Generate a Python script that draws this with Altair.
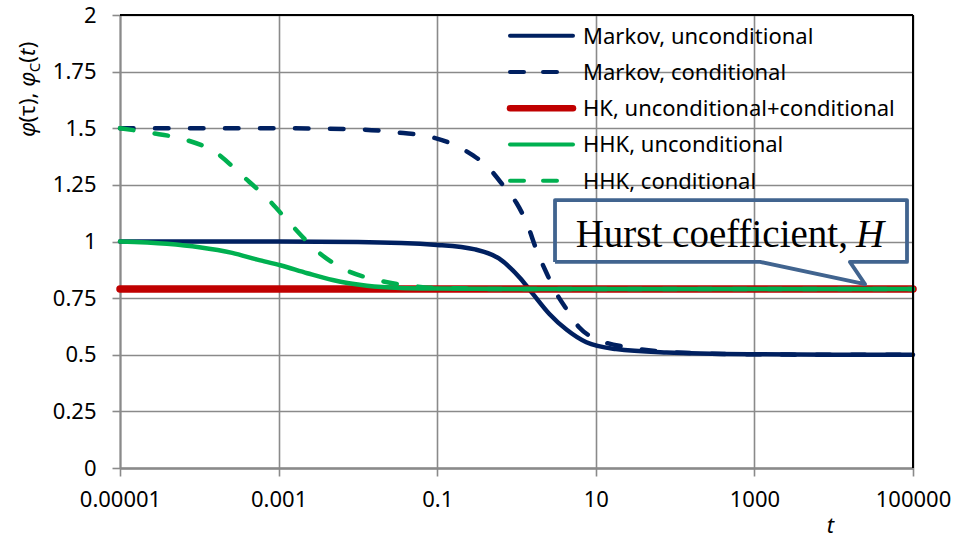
import altair as alt
import pandas as pd

# Series definitions (legend order = drawing order)
series_names = [
    "Markov, unconditional",
    "Markov, conditional",
    "HK, unconditional+conditional",
    "HHK, unconditional",
    "HHK, conditional",
]
series_colors = ["#002060", "#002060", "#C00000", "#00B050", "#00B050"]
series_dashed = [False, True, False, False, True]
series_width = [4.5, 4.5, 7.5, 4.5, 4.5]
legend_width = [4, 4, 6.5, 4, 4]

# Markov process, unconditional
markov_unc_t = [1e-5, 1e-4, 1e-3, 1e-2, 0.1, 0.3, 0.6, 1.1, 1.6, 2.6, 4.3, 7.6, 18, 78, 1000, 1e4, 1e5]
markov_unc_phi = [1.0, 1.0, 1.0, 0.998, 0.985, 0.965, 0.925, 0.84, 0.77, 0.68, 0.61, 0.555, 0.525, 0.51, 0.502, 0.5, 0.5]

# Markov process, conditional
markov_cond_t = [1e-5, 1e-4, 1e-3, 1e-2, 0.034, 0.087, 0.23, 0.46, 0.74, 1.0, 1.35, 1.8, 2.4, 3.2, 4.3, 6.2, 11, 29, 100, 1000, 1e4, 1e5]
markov_cond_phi = [1.5, 1.5, 1.5, 1.495, 1.48, 1.46, 1.40, 1.32, 1.23, 1.17, 1.08, 0.96, 0.86, 0.77, 0.70, 0.62, 0.565, 0.53, 0.51, 0.502, 0.5, 0.5]

# Hurst-Kolmogorov process (unconditional and conditional coincide)
hk_t = [1e-5, 1e5]
hk_phi = [0.79, 0.79]

# Hybrid HK process, unconditional
hhk_unc_t = [1e-5, 3.9e-5, 1.0e-4, 2.6e-4, 5.4e-4, 1.05e-3, 2.3e-3, 4.8e-3, 0.013, 0.034, 0.1, 1, 1e5]
hhk_unc_phi = [1.0, 0.99, 0.975, 0.95, 0.92, 0.895, 0.86, 0.83, 0.805, 0.795, 0.792, 0.79, 0.79]

# Hybrid HK process, conditional
hhk_cond_t = [1e-5, 2.4e-5, 6.6e-5, 1.66e-4, 3.5e-4, 7.2e-4, 1.48e-3, 3.0e-3, 6.5e-3, 0.0174, 0.045, 0.1, 1, 1e5]
hhk_cond_phi = [1.5, 1.48, 1.45, 1.39, 1.29, 1.19, 1.07, 0.96, 0.88, 0.83, 0.805, 0.795, 0.79, 0.79]

# Axis ticks
x_ticks = [1e-5, 1e-3, 0.1, 10, 1000, 1e5]
y_ticks = [0, 0.25, 0.5, 0.75, 1, 1.25, 1.5, 1.75, 2]

# Callout outline (data units) and its text anchors
callout_t = [3.06, 3.06, 84000, 84000, 16000, 24800, 1180, 3.06]
callout_phi = [0.91, 1.183, 1.183, 0.91, 0.91, 0.812, 0.91, 0.91]
callout_text_t = [15100, 19100]
callout_text_phi = [0.976, 0.976]

DASH = [13.5, 21.5]

rows = []
for name, ts, ps in zip(
    series_names,
    [markov_unc_t, markov_cond_t, hk_t, hhk_unc_t, hhk_cond_t],
    [markov_unc_phi, markov_cond_phi, hk_phi, hhk_unc_phi, hhk_cond_phi],
):
    for t, p in zip(ts, ps):
        rows.append({"series": name, "t": t, "phi": p})
df = pd.DataFrame(rows)

x_scale = alt.Scale(type="log", domain=[1e-5, 1e5], nice=False)
y_scale = alt.Scale(domain=[0, 2], nice=False)

x_enc = alt.X(
    "t:Q",
    scale=x_scale,
    axis=alt.Axis(
        values=x_ticks,
        labelExpr="datum.value < 1 ? format(datum.value, '.5~f') : format(datum.value, 'd')",
        labelFlush=False,
        title="t",
        titleFontStyle="italic",
        titleFontWeight="normal",
        titleFontSize=22,
        titleX=710,
        titleY=57,
        titleAlign="center",
        titleBaseline="middle",
        labelPadding=13,
        domainWidth=2.5,
    ),
)
y_enc = alt.Y(
    "phi:Q",
    scale=y_scale,
    axis=alt.Axis(values=y_ticks, labelExpr="format(datum.value, '.2~f')", title=None, labelPadding=16),
)

# Curves, one layer per series so later series draw on top
layers = []
for name, col, dashed, w in zip(series_names, series_colors, series_dashed, series_width):
    mark_kw = dict(interpolate="monotone", strokeCap="round", strokeJoin="round", color=col, strokeWidth=w)
    if dashed:
        mark_kw["strokeDash"] = DASH
    layers.append(
        alt.Chart(df)
        .transform_filter(alt.datum.series == name)
        .mark_line(**mark_kw)
        .encode(x=x_enc, y=y_enc)
    )

# Black frame on top and right of the plot area
frame_top = alt.Chart(pd.DataFrame({"phi": [2]})).mark_rule(color="black", strokeWidth=2).encode(y=alt.Y("phi:Q", scale=y_scale))
frame_right = alt.Chart(pd.DataFrame({"t": [1e5]})).mark_rule(color="black", strokeWidth=2).encode(x=alt.X("t:Q", scale=x_scale))

# Legend, drawn inside the plot area at top right
one = pd.DataFrame({"a": [0]})
legend_layers = []
for i, (name, col, dashed, w) in enumerate(zip(series_names, series_colors, series_dashed, legend_width)):
    yc = 20.7 + i * 36.25
    rule_kw = dict(color=col, strokeWidth=w, strokeCap="round")
    if dashed:
        rule_kw["strokeDash"] = [14, 19]
    legend_layers.append(
        alt.Chart(one).mark_rule(**rule_kw).encode(x=alt.value(390), x2=alt.value(453), y=alt.value(yc))
    )
    legend_layers.append(
        alt.Chart(one)
        .mark_text(font="Noto Sans", fontSize=22, align="left", baseline="alphabetic", color="black")
        .encode(x=alt.value(463), y=alt.value(yc + 7.8), text=alt.value(name))
    )

# Callout bubble
callout_df = pd.DataFrame({"t": callout_t, "phi": callout_phi, "k": list(range(len(callout_t)))})
callout = (
    alt.Chart(callout_df)
    .mark_line(color="#41648F", strokeWidth=3.8, strokeJoin="round")
    .encode(x=alt.X("t:Q", scale=x_scale), y=alt.Y("phi:Q", scale=y_scale), order="k:Q")
)
ct_df = pd.DataFrame({"t": callout_text_t, "phi": callout_text_phi, "txt": ["Hurst coefficient,", "H"]})
callout_txt1 = (
    alt.Chart(ct_df.iloc[[0]])
    .mark_text(font="Liberation Serif", fontSize=39, align="right", baseline="alphabetic", color="black")
    .encode(x=alt.X("t:Q", scale=x_scale), y=alt.Y("phi:Q", scale=y_scale), text="txt:N")
)
callout_txt2 = (
    alt.Chart(ct_df.iloc[[1]])
    .mark_text(font="Liberation Serif", fontSize=39, fontStyle="italic", align="left", baseline="alphabetic", color="black")
    .encode(x=alt.X("t:Q", scale=x_scale), y=alt.Y("phi:Q", scale=y_scale), text="txt:N")
)

# Y-axis title: φ(τ), φ_C(t) built from pieces, reading bottom to top
title_pieces = [
    ("φ", "italic", 22, -92, 122),
    ("(τ), ", "normal", 22, -92, 107.5),
    ("φ", "italic", 22, -92, 71.7),
    ("C", "normal", 15, -85, 57.2),
    ("(", "normal", 22, -92, 47.7),
    ("t", "italic", 22, -92, 41.1),
    (")", "normal", 22, -92, 33.2),
]
title_layers = []
for txt, style, size, px, py in title_pieces:
    title_layers.append(
        alt.Chart(one)
        .mark_text(font="Noto Sans", fontSize=size, fontStyle=style, angle=270, align="left", baseline="middle", color="black")
        .encode(x=alt.value(px), y=alt.value(py), text=alt.value(txt))
    )

chart = (
    alt.layer(*layers, frame_top, frame_right, *legend_layers, callout, callout_txt1, callout_txt2, *title_layers)
    .properties(
        width=793,
        height=453,
        padding={"left": 120, "top": 15, "right": 49, "bottom": 70},
        autosize=alt.AutoSizeParams(type="none"),
        background="white",
    )
    .configure_view(stroke=None)
    .configure_axis(
        grid=True,
        gridColor="#8a8a8a",
        gridWidth=1.6,
        domainColor="#8a8a8a",
        domainWidth=2,
        tickColor="#8a8a8a",
        tickWidth=1.6,
        tickSize=8,
        labelFont="Noto Sans",
        labelFontSize=22,
        labelColor="black",
        titleFont="Noto Sans",
        titleColor="black",
    )
)

chart.save("out.html", embed_options={"renderer": "svg", "actions": False})
